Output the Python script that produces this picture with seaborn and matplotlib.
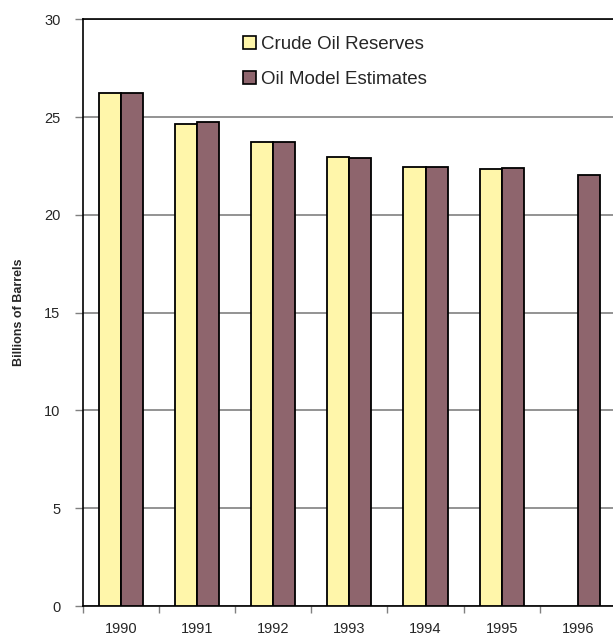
import matplotlib
matplotlib.use("Agg")
import matplotlib.pyplot as plt
import seaborn as sns
import pandas as pd
import numpy as np

years = ["1990", "1991", "1992", "1993", "1994", "1995", "1996"]
crude_reserves = [26.25, 24.66, 23.73, 22.95, 22.44, 22.34, np.nan]
model_estimates = [26.25, 24.77, 23.73, 22.93, 22.44, 22.42, 22.03]
series_names = ["Crude Oil Reserves", "Oil Model Estimates"]
y_ticks = [0, 5, 10, 15, 20, 25, 30]

df = pd.DataFrame({
    "year": years * 2,
    "value": crude_reserves + model_estimates,
    "series": [series_names[0]] * len(years) + [series_names[1]] * len(years),
})

sns.set_style("white")
plt.rcParams['font.family'] = ['Liberation Sans', 'DejaVu Sans']

fig = plt.figure(figsize=(6.13, 6.35), dpi=100)
ax = fig.add_axes([82.7 / 613, 29 / 635, (616 - 82.7) / 613, (606 - 19.3) / 635])

sns.barplot(data=df, x="year", y="value", hue="series", order=years,
            hue_order=series_names, palette=["#FFF6AA", "#8E656D"],
            width=0.58, gap=0, edgecolor="black", linewidth=1.3,
            saturation=1, ax=ax, zorder=3)

ax.set_ylim(0, 30)
ax.set_xlim(-0.5, len(years) - 0.5)
ax.set_yticks(y_ticks)
ax.set_yticklabels([str(t) for t in y_ticks], fontsize=10.5)
ax.yaxis.grid(True, color="#808080", linewidth=1.2, zorder=0)
ax.set_axisbelow(True)
ax.tick_params(axis="y", left=True, length=6, width=1, color="#808080", pad=10)

ax.set_xticks(range(len(years)))
ax.set_xticklabels(years, fontsize=10.5)
ax.set_xticks(np.arange(-0.5, len(years), 1), minor=True)
ax.tick_params(axis="x", which="major", bottom=False, length=0, pad=11.5)
ax.tick_params(axis="x", which="minor", bottom=True, length=5, width=1, color="#808080")

for side in ["left", "bottom", "top"]:
    ax.spines[side].set_color("black")
    ax.spines[side].set_linewidth(1.2)
ax.spines["right"].set_visible(False)

ax.set_xlabel("")
ax.set_ylabel("Billions of Barrels", fontsize=9, fontweight="bold")
ax.yaxis.set_label_coords(-0.108, 0.5)

leg = ax.legend(loc="upper left", bbox_to_anchor=(0.30, 0.972), frameon=False,
                fontsize=13.5, handlelength=0.7, handleheight=0.7,
                handletextpad=0.3, labelspacing=0.95, borderpad=0, borderaxespad=0)
for h in leg.legend_handles:
    h.set_edgecolor("black")
    h.set_linewidth(1.2)

fig.savefig("out.png", dpi=100)
